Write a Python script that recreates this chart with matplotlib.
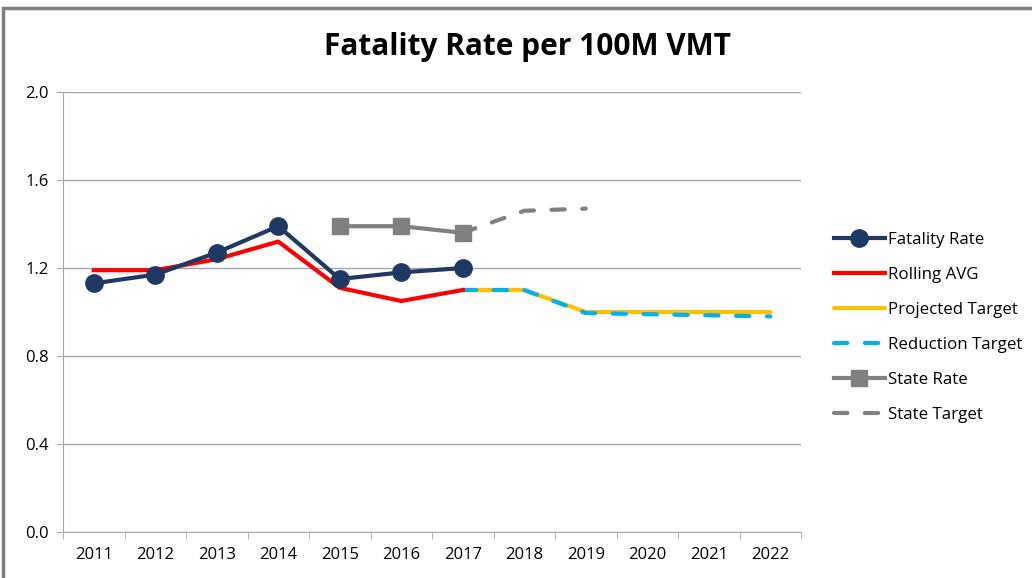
import matplotlib.pyplot as plt
from matplotlib.patches import Rectangle

years = ['2011', '2012', '2013', '2014', '2015', '2016', '2017',
         '2018', '2019', '2020', '2021', '2022']

# values
fatality_rate = [1.13, 1.17, 1.27, 1.39, 1.15, 1.18, 1.20]
rolling_avg = [1.19, 1.19, 1.24, 1.32, 1.11, 1.05, 1.10]
projected_target = [1.10, 1.10, 1.00, 1.00, 1.00, 1.00]
reduction_target = [1.10, 1.10, 0.995, 0.99, 0.985, 0.98]
state_rate = [1.39, 1.39, 1.36]
state_target = [1.36, 1.46, 1.47]

x_all = list(range(len(years)))

plt.rcParams['font.family'] = ['Open Sans', 'DejaVu Sans']

fig = plt.figure(figsize=(10.32, 5.78), dpi=100)
ax = fig.add_axes([63 / 1032, 1 - 532 / 578, (801 - 63) / 1032, (532 - 92) / 578])

navy = '#1F3864'
lw = 3

ax.plot(x_all[0:7], fatality_rate, color=navy, lw=lw, marker='o',
        markersize=12.5, label='Fatality Rate', zorder=5)
ax.plot(x_all[0:7], rolling_avg, color='#FF0000', lw=lw,
        label='Rolling AVG', zorder=4)
ax.plot(x_all[6:12], projected_target, color='#FFC000', lw=lw,
        label='Projected Target', zorder=3, solid_capstyle='round')
ax.plot(x_all[6:12], reduction_target, color='#00B0F0', lw=lw,
        dashes=(3.2, 4.2), dash_capstyle='round',
        label='Reduction Target', zorder=3.5)
ax.plot(x_all[4:7], state_rate, color='#808080', lw=lw, marker='s',
        markersize=12, label='State Rate', zorder=5)
ax.plot(x_all[6:9], state_target, color='#808080', lw=lw,
        dashes=(3.2, 4.2), dash_capstyle='round',
        label='State Target', zorder=3)

ax.set_xlim(-0.5, 11.5)
ax.set_ylim(0, 2.0)
ax.set_yticks([0, 0.4, 0.8, 1.2, 1.6, 2.0])
ax.set_yticklabels(['0.0', '0.4', '0.8', '1.2', '1.6', '2.0'])
ax.set_xticks(x_all)
ax.set_xticklabels(years)
ax.set_xticks([i - 0.5 for i in range(13)], minor=True)
ax.tick_params(axis='x', which='major', length=0, pad=11, labelsize=12)
ax.tick_params(axis='x', which='minor', length=5, color='#A6A6A6')
ax.tick_params(axis='y', length=5, color='#A6A6A6', labelsize=12, pad=5)

ax.grid(axis='y', color='#A6A6A6', lw=1)
ax.set_axisbelow(True)
for side in ['top', 'right']:
    ax.spines[side].set_visible(False)
for side in ['left', 'bottom']:
    ax.spines[side].set_color('#A6A6A6')

fig.text(527 / 1032, 1 - 47 / 578, 'Fatality Rate per 100M VMT',
         ha='center', va='center', fontsize=21.5, fontweight='bold')

fig.legend(loc='upper left', bbox_to_anchor=(827 / 1032, 1 - 225 / 578),
           frameon=False, fontsize=12.2, handlelength=3.0, labelspacing=1.12,
           handletextpad=0.2, borderaxespad=0)

# outer chart border (top and left visible)
fig.patches.append(Rectangle((3 / 1032, -0.1), 1.2, 1 - 8 / 578 + 0.1,
                             transform=fig.transFigure, fill=False,
                             edgecolor='#7F7F7F', lw=2.5))

fig.savefig('out.png', dpi=100)
